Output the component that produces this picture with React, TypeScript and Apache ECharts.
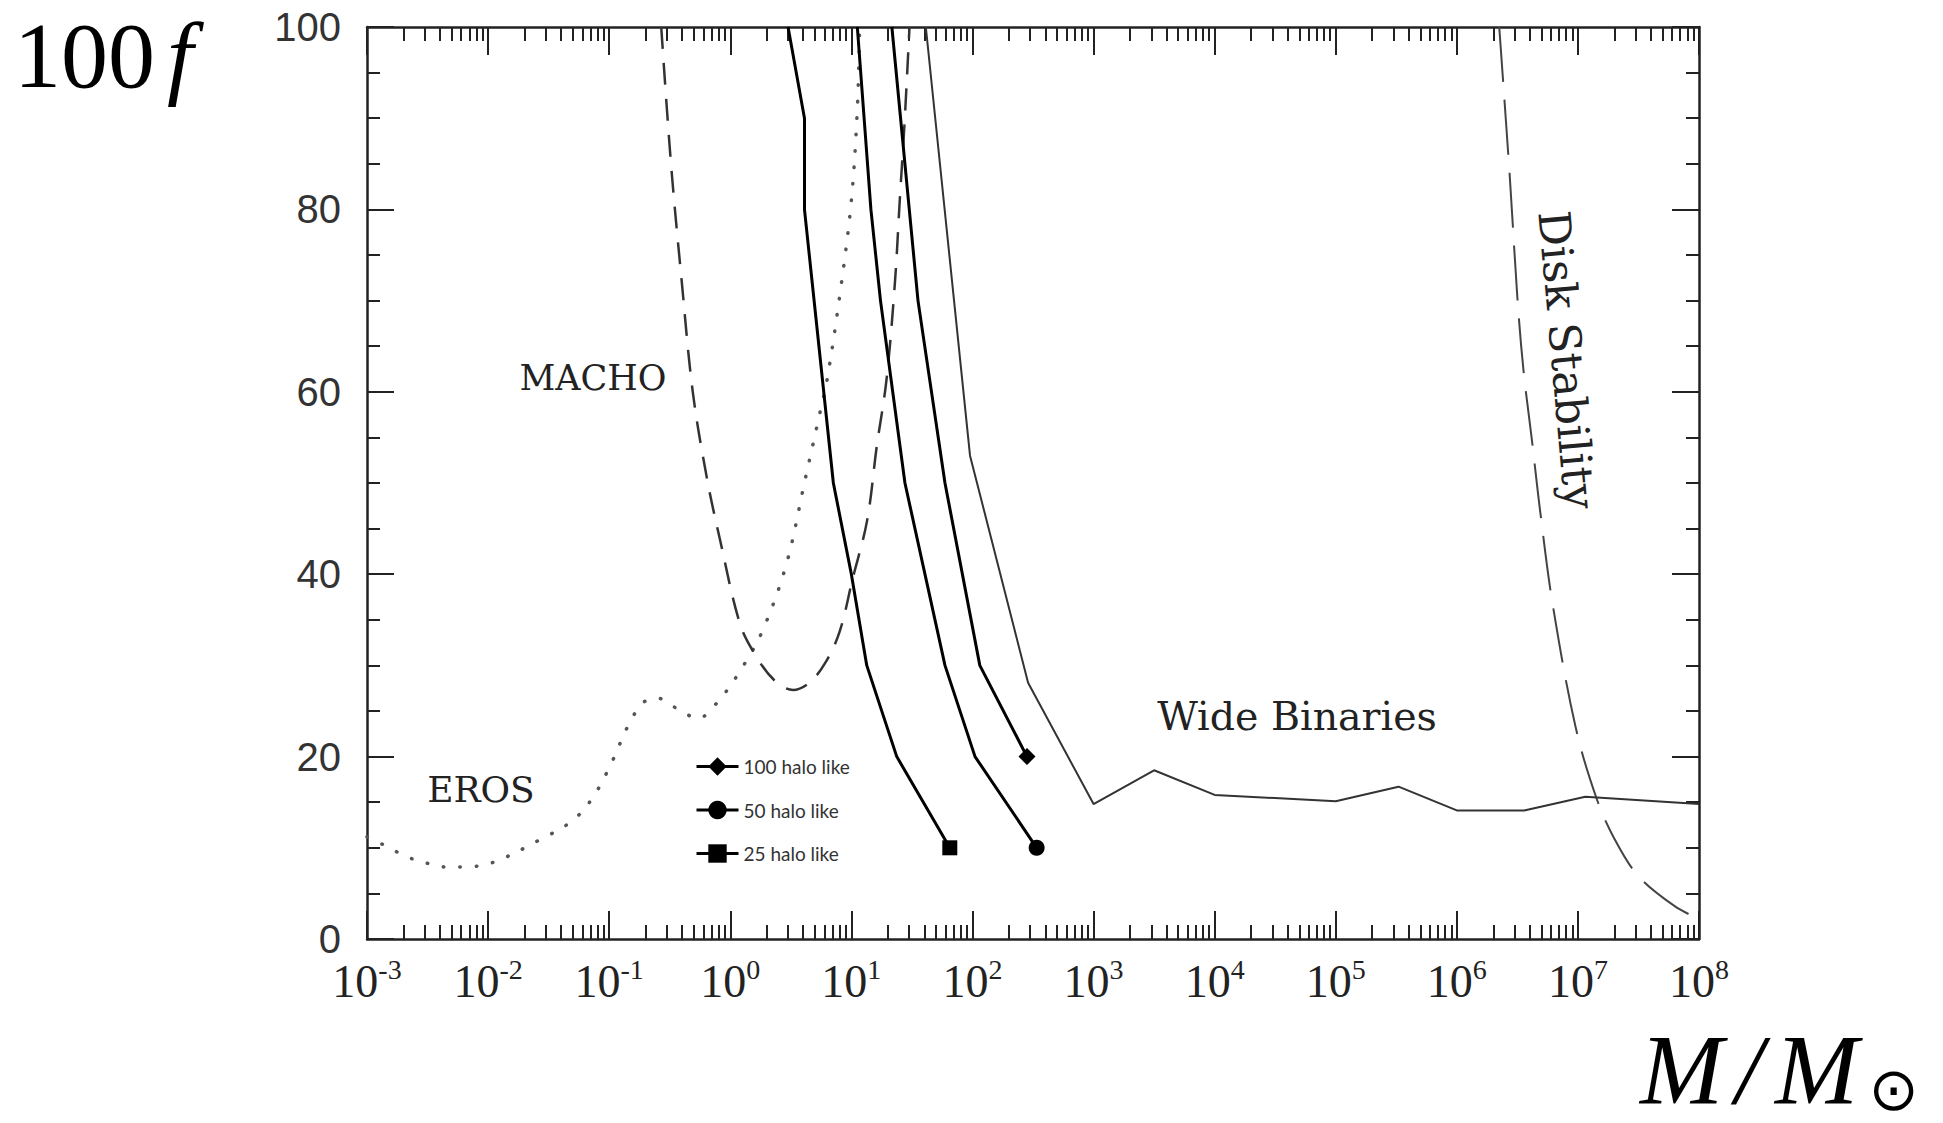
import React, { useEffect, useRef } from "react";
import * as echarts from "echarts";

// ---------- axes ----------
const xMin = 1e-3;
const xMax = 1e8;
const decadeExponents = [-3, -2, -1, 0, 1, 2, 3, 4, 5, 6, 7];
const minorMultipliers = [2, 3, 4, 5, 6, 7, 8, 9];
const yMin = 0;
const yMax = 100;

// ---------- EROS (dotted) ----------
const erosMass = [0.001, 0.00148, 0.00214, 0.00316, 0.00447, 0.0063, 0.011, 0.0269, 0.05, 0.074, 0.107, 0.141, 0.19, 0.25, 0.38, 0.54, 0.81, 1.26, 1.86, 2.92, 4.14, 5.5, 6.3, 8.2, 10.0, 11.2, 11.7];
const erosF = [11.2, 10.1, 9.0, 8.3, 7.9, 7.9, 8.4, 10.9, 13.0, 15.6, 19.6, 23.2, 25.9, 26.4, 25.1, 24.2, 26.2, 29.8, 33.9, 41.2, 50.3, 57.7, 61.3, 71.5, 81, 91, 100];

// ---------- MACHO (dashed) ----------
const machoMass = [0.269, 0.324, 0.398, 0.49, 0.638, 0.822, 1.2, 1.6, 2.3, 3.3, 4.5, 6.1, 8.0, 10.2, 13.5, 16.2, 19.5, 22.9, 25.1, 27.5, 30.2];
const machoF = [100, 85, 72, 60, 50.7, 43.8, 34.6, 31.2, 28.4, 27.3, 28.1, 30.3, 33.7, 39.4, 45.9, 54, 61.3, 72, 81, 89.5, 100];

// ---------- Disk Stability (long dash) ----------
const diskMass = [2.24e6, 2.75e6, 3.16e6, 3.55e6, 4.17e6, 4.9e6, 6.17e6, 9.55e6, 1.41e7, 2.0e7, 3.16e7, 6.3e7, 1e8];
const diskF = [100, 83.2, 70.4, 62.4, 54.7, 46.7, 36.8, 23.3, 15.6, 11, 6.9, 3.6, 2.2];

// ---------- Wide Binaries (thin solid) ----------
const wideMass = [41.2, 95.5, 288, 1000, 3160, 1e4, 1e5, 3.3e5, 1e6, 3.6e6, 1.15e7, 1e8];
const wideF = [100, 53, 28.1, 14.8, 18.5, 15.8, 15.1, 16.7, 14.1, 14.1, 15.6, 14.8];

// ---------- halo-like constraints ----------
const halo100Mass = [21.6, 35.5, 59.3, 115, 282];
const halo100F = [100, 70, 50, 30, 20];
const halo50Mass = [11.2, 14.5, 17.4, 27.7, 59.3, 105, 339];
const halo50F = [100, 80, 70, 50, 30, 20, 10];
const halo25Mass = [3.0, 4.1, 4.1, 7.1, 10, 13.4, 23.7, 65];
const halo25F = [100, 90, 80, 50, 40, 30, 20, 10];

const legendNames = ["100 halo like", "50 halo like", "25 halo like"];

const pairs = (xs: number[], ys: number[]) => xs.map((x, i) => [x, ys[i]]);
const endMarked = (xs: number[], ys: number[]) =>
  xs.map((x, i) => (i === xs.length - 1 ? { value: [x, ys[i]] } : { value: [x, ys[i]], symbol: "none" }));

const minorTickExps: number[] = [];
decadeExponents.forEach((e) => minorMultipliers.forEach((m) => minorTickExps.push(e + Math.log10(m))));

const axisLineStyle = { color: "#222", width: 2.5 };
const tickLineStyle = { color: "#222", width: 2 };

const xLabel = {
  show: true,
  margin: 16,
  color: "#222",
  formatter: (v: number) => "{b|10}{s|" + Math.round(Math.log10(v)) + "}",
  rich: {
    b: { fontFamily: "Liberation Serif", fontSize: 46, lineHeight: 52, color: "#222" },
    s: { fontFamily: "Liberation Serif", fontSize: 28, lineHeight: 32, verticalAlign: "top", color: "#222" },
  },
};

const logAxis = (position: string, showLabel: boolean) => ({
  type: "log",
  logBase: 10,
  min: xMin,
  max: xMax,
  interval: 1,
  position,
  gridIndex: 0,
  axisLine: { show: true, onZero: false, lineStyle: axisLineStyle },
  axisTick: { show: true, inside: true, length: 28, lineStyle: tickLineStyle },
  minorTick: { show: false },
  splitLine: { show: false },
  minorSplitLine: { show: false },
  axisLabel: showLabel ? xLabel : { show: false },
});

const minorXAxis = (position: string) => ({
  type: "value",
  min: -3,
  max: 8,
  interval: 1,
  position,
  gridIndex: 0,
  axisLine: { show: false, onZero: false },
  axisTick: { show: true, inside: true, length: 14, customValues: minorTickExps, lineStyle: tickLineStyle },
  axisLabel: { show: false },
  splitLine: { show: false },
});

const yAxisDef = (position: string, major: boolean, showLabel: boolean) => ({
  type: "value",
  min: yMin,
  max: yMax,
  interval: major ? 20 : 5,
  position,
  gridIndex: 0,
  axisLine: { show: major, onZero: false, lineStyle: axisLineStyle },
  axisTick: { show: true, inside: true, length: major ? 27 : 13, lineStyle: tickLineStyle },
  splitLine: { show: false },
  axisLabel: showLabel
    ? { show: true, margin: 26, color: "#333", fontFamily: "Liberation Sans", fontSize: 40 }
    : { show: false },
});

const haloSeries = (name: string, xs: number[], ys: number[], symbol: string, size: number) => ({
  name,
  type: "line",
  xAxisIndex: 0,
  yAxisIndex: 0,
  data: endMarked(xs, ys),
  symbol,
  symbolSize: size,
  showSymbol: true,
  lineStyle: { color: "#000", width: 3 },
  itemStyle: { color: "#000" },
  z: 5,
});

const annoFont = "DejaVu Serif";

const option: any = {
  animation: false,
  backgroundColor: "#fff",
  grid: { left: 367, top: 27, width: 1332, height: 912, show: false, outerBoundsMode: "none", containLabel: false },
  xAxis: [logAxis("bottom", true), minorXAxis("bottom"), logAxis("top", false), minorXAxis("top")],
  yAxis: [yAxisDef("left", true, true), yAxisDef("left", false, false), yAxisDef("right", true, false), yAxisDef("right", false, false)],
  legend: {
    orient: "vertical",
    left: 690,
    top: 752,
    itemWidth: 42,
    itemHeight: 23,
    itemGap: 24.5,
    selectedMode: false,
    data: legendNames,
    lineStyle: { width: 3, color: "#000" },
    textStyle: { fontFamily: "Lato", fontSize: 19, color: "#333" },
  },
  series: [
    {
      name: "EROS",
      type: "line",
      data: pairs(erosMass, erosF),
      symbol: "none",
      smooth: 0.35,
      lineStyle: { color: "#555", width: 3.5, type: [0.5, 16], cap: "round" },
    },
    {
      name: "MACHO",
      type: "line",
      data: pairs(machoMass, machoF),
      symbol: "none",
      smooth: 0.35,
      lineStyle: { color: "#333", width: 2.5, type: [22, 14] },
    },
    {
      name: "Disk Stability",
      type: "line",
      data: pairs(diskMass, diskF),
      symbol: "none",
      smooth: 0.35,
      lineStyle: { color: "#444", width: 2, type: [55, 18] },
    },
    {
      name: "Wide Binaries",
      type: "line",
      data: pairs(wideMass, wideF),
      symbol: "none",
      lineStyle: { color: "#333", width: 2 },
    },
    haloSeries(legendNames[0], halo100Mass, halo100F, "diamond", 17),
    haloSeries(legendNames[1], halo50Mass, halo50F, "circle", 16),
    haloSeries(legendNames[2], halo25Mass, halo25F, "rect", 15),
  ],
  graphic: [
    {
      type: "text",
      x: 14,
      y: 55,
      style: {
        text: "{n|100}{f|f}",
        align: "left",
        verticalAlign: "middle",
        fill: "#000",
        rich: {
          n: { fontFamily: "Liberation Serif", fontSize: 94, lineHeight: 104, color: "#000" },
          f: { fontFamily: "Liberation Serif", fontStyle: "italic", fontSize: 94, lineHeight: 104, color: "#000", padding: [0, 0, 0, 12] },
        },
      },
    },
    {
      type: "text",
      x: 1640,
      y: 1019,
      style: {
        text: "{m|M}{sl|/}{m|M}{o|⊙}",
        align: "left",
        verticalAlign: "top",
        fill: "#000",
        rich: {
          m: { fontFamily: "Liberation Serif", fontStyle: "italic", fontSize: 100, lineHeight: 100, color: "#000" },
          sl: { fontFamily: "Liberation Serif", fontStyle: "italic", fontSize: 100, lineHeight: 100, color: "#000", padding: [0, 12, 0, 12] },
          o: { fontFamily: "DejaVu Sans", fontSize: 60, lineHeight: 64, verticalAlign: "bottom", color: "#000", padding: [0, 0, 0, 10] },
        },
      },
    },
    { type: "text", x: 593, y: 378, style: { text: "MACHO", font: `35px "${annoFont}"`, fill: "#222", align: "center", verticalAlign: "middle" } },
    { type: "text", x: 481, y: 789, style: { text: "EROS", font: `36px "${annoFont}"`, fill: "#222", align: "center", verticalAlign: "middle" } },
    { type: "text", x: 1297, y: 716, style: { text: "Wide Binaries", font: `39.5px "${annoFont}"`, fill: "#222", align: "center", verticalAlign: "middle" } },
    {
      type: "text",
      x: 1567,
      y: 360,
      rotation: -1.482,
      style: { text: "Disk Stability", font: `44px "${annoFont}"`, fill: "#222", align: "center", verticalAlign: "middle" },
    },
  ],
};

export default function App() {
  const ref = useRef<HTMLDivElement>(null);
  useEffect(() => {
    if (!ref.current) return;
    const chart = echarts.init(ref.current, null, { renderer: "svg", width: 1943, height: 1123 });
    chart.setOption(option);
    return () => chart.dispose();
  }, []);
  return (
    <div
      ref={ref}
      style={{ position: "fixed", left: 0, top: 0, width: 1943, height: 1123, background: "#fff" }}
    />
  );
}
